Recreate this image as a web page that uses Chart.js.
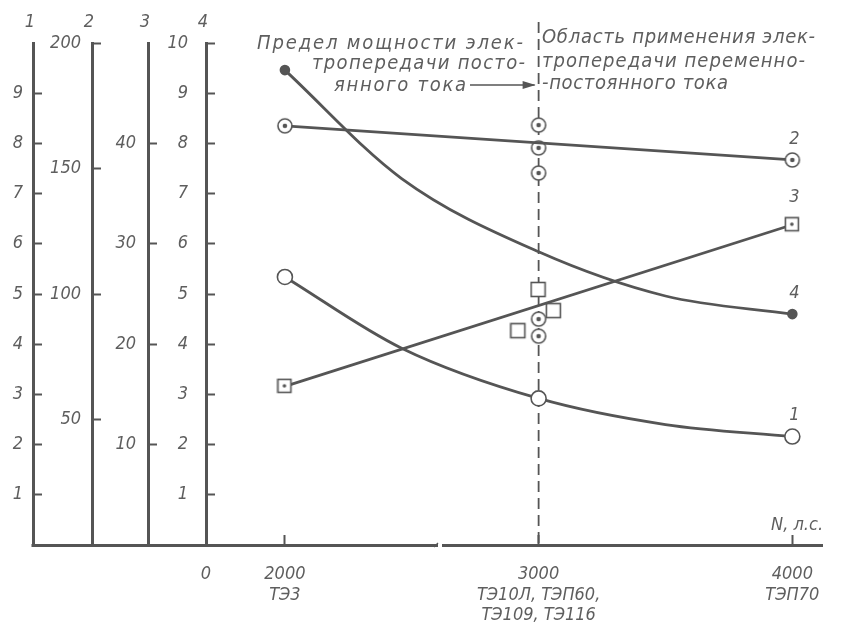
<!DOCTYPE html>
<html><head><meta charset="utf-8">
<script src="https://cdn.jsdelivr.net/npm/chart.js@4"></script>
<style>html,body{margin:0;padding:0;background:#fff}#wrap{width:849px;height:625px}</style>
</head><body><div id="wrap"><canvas id="c" width="849" height="625"></canvas></div>
<script>
// ---- data ----
const powerHP = [2000, 3000, 4000];
const xTickValues = [1689, 2000, 3000, 4000];
const xTickLabels = [['0'], ['2000', 'ТЭ3'], ['3000', 'ТЭ10Л, ТЭП60,', 'ТЭ109, ТЭ116'], ['4000', 'ТЭП70']];

const y1Ticks = [1, 2, 3, 4, 5, 6, 7, 8, 9];
const y2Ticks = [50, 100, 150, 200];
const y3Ticks = [10, 20, 30, 40];
const y4Ticks = [1, 2, 3, 4, 5, 6, 7, 8, 9, 10];

// curve 1 (axis 1)
const curve1X = [2000, 2460, 3000, 3500, 4000];
const curve1Y = [5.34, 3.92, 2.92, 2.4, 2.16];
// curve 2 (axis 2)
const curve2X = [2000, 4000];
const curve2Y = [167, 153.4];
// curve 3 (axis 3)
const curve3X = [2000, 4000];
const curve3Y = [15.8, 31.9];
// curve 4 (axis 4)
const curve4X = [2000, 2460, 3000, 3500, 4000];
const curve4Y = [9.46, 7.3, 5.84, 4.96, 4.6];
// individual locomotive points at 3000 h.p.
const pts2X = [3000, 3000, 3000];
const pts2Y = [167.3, 158.2, 148.2];
const pts3X = [3000, 3060, 2920];
const pts3Y = [25.4, 23.3, 21.3];
const pts4X = [3000, 3000];
const pts4Y = [4.5, 4.16];

const curveNames = ['1', '2', '3', '4'];

// ---- style ----
const INK = '#555';
const TXT = '#5e5e5e';
const FONT = "'DejaVu Sans Condensed', 'Liberation Sans Narrow', 'DejaVu Sans', sans-serif";

function mk(w, h, draw) { const c = document.createElement('canvas'); c.width = w; c.height = h; draw(c.getContext('2d')); return c; }
const circleDot = mk(18, 18, g => { g.beginPath(); g.arc(9, 9, 7, 0, Math.PI * 2); g.fillStyle = '#fff'; g.fill(); g.lineWidth = 1.6; g.strokeStyle = INK; g.stroke(); g.beginPath(); g.arc(9, 9, 2.3, 0, Math.PI * 2); g.fillStyle = INK; g.fill(); });
const squareDot = mk(17, 17, g => { g.fillStyle = '#fff'; g.fillRect(1.5, 1.5, 13, 13); g.lineWidth = 1.6; g.strokeStyle = INK; g.strokeRect(1.5, 1.5, 13, 13); g.beginPath(); g.arc(8, 8, 1.8, 0, Math.PI * 2); g.fillStyle = INK; g.fill(); });
const squarePlain = mk(18, 18, g => { g.fillStyle = '#fff'; g.fillRect(1.5, 1.5, 14, 14); g.lineWidth = 1.6; g.strokeStyle = INK; g.strokeRect(1.5, 1.5, 14, 14); });

const pairs = (xs, ys) => xs.map((x, i) => ({ x, y: ys[i] }));
const tickFont = { family: FONT, size: 18, style: 'italic', lineHeight: 1.15 };

function yScale(max, ticks, width, pad, weight) {
  return {
    type: 'linear', position: 'left', min: 0, max, weight,
    afterBuildTicks: s => { s.ticks = ticks.map(v => ({ value: v })); },
    afterFit: s => { s.width = width; },
    ticks: { padding: pad, color: TXT, font: tickFont, autoSkip: false },
    grid: { display: true, drawOnChartArea: false, drawTicks: true, tickLength: -9, tickWidth: 2, tickColor: INK },
    border: { display: true, color: INK, width: 3 }
  };
}

function spaced(ctx, text, x, y, width, align) {
  ctx.letterSpacing = '0px';
  const w0 = ctx.measureText(text).width;
  const n = [...text].length;
  const ls = n > 1 ? (width - w0) / (n - 1) : 0;
  ctx.letterSpacing = ls + 'px';
  ctx.textAlign = 'left';
  const x0 = align === 'right' ? x - width : align === 'center' ? x - width / 2 : x;
  ctx.fillText(text, x0, y);
  ctx.letterSpacing = '0px';
}

const decor = {
  id: 'decor',
  beforeDatasetsDraw(chart) {
    const { ctx, chartArea: a, scales: { x } } = chart;
    const px = x.getPixelForValue(3000);
    ctx.save();
    ctx.strokeStyle = INK; ctx.lineWidth = 1.8; ctx.setLineDash([11, 6]);
    ctx.beginPath(); ctx.moveTo(px, 22); ctx.lineTo(px, a.bottom); ctx.stroke();
    ctx.restore();
  },
  afterDraw(chart) {
    const { ctx, chartArea: a, scales } = chart;
    const x = scales.x;
    ctx.save();
    // bottom line under the left axes
    ctx.strokeStyle = INK; ctx.lineWidth = 3;
    ctx.beginPath(); ctx.moveTo(scales.y1.right - 1.5, a.bottom + 0.5); ctx.lineTo(a.left, a.bottom + 0.5); ctx.stroke();
    // break in the x axis
    ctx.fillStyle = '#fff'; ctx.fillRect(438, a.bottom - 3, 4, 8);
    ctx.strokeStyle = INK; ctx.lineWidth = 1.2;
    ctx.beginPath(); ctx.moveTo(434, a.bottom + 2); ctx.lineTo(438, a.bottom - 2); ctx.stroke();
    // axis numbers
    ctx.fillStyle = TXT; ctx.font = "italic 18px " + FONT; ctx.textAlign = 'center'; ctx.textBaseline = 'middle';
    ['y1', 'y2', 'y3', 'y4'].forEach((id, i) => { ctx.fillText(curveNames[i], scales[id].right - 3, 22); });
    // curve labels
    [0, 1, 2, 3].forEach(i => {
      const el = chart.getDatasetMeta(i).data.at(-1);
      ctx.fillText(curveNames[i], el.x + 2, el.y - (i === 2 ? 27 : 21));
    });
    // N, л.с.
    ctx.textAlign = 'right';
    ctx.fillText('N, л.с.', x.right + 1, a.bottom - 20);
    // annotations
    ctx.font = "italic 20px " + FONT;
    ctx.textBaseline = 'alphabetic';
    spaced(ctx, 'Предел мощности элек-', 523, 49, 266, 'right');
    spaced(ctx, 'тропередачи посто-', 525, 69, 213, 'right');
    spaced(ctx, 'янного тока', 334, 91, 132, 'left');
    spaced(ctx, 'Область применения элек-', 542, 43, 273, 'left');
    spaced(ctx, 'тропередачи переменно-', 542, 67, 263, 'left');
    spaced(ctx, '-постоянного тока', 542, 89, 186, 'left');
    // arrow
    const ax = x.getPixelForValue(3000);
    ctx.strokeStyle = INK; ctx.lineWidth = 1.5;
    ctx.beginPath(); ctx.moveTo(470, 85); ctx.lineTo(ax - 4, 85); ctx.stroke();
    ctx.fillStyle = INK;
    ctx.beginPath(); ctx.moveTo(ax - 3, 85); ctx.lineTo(ax - 16, 81); ctx.lineTo(ax - 16, 89); ctx.closePath(); ctx.fill();
    ctx.restore();
  }
};

const lineBase = { borderColor: INK, borderWidth: 2.8, fill: false, pointBorderColor: INK, pointBackgroundColor: '#fff', pointBorderWidth: 1.6 };

new Chart(document.getElementById('c'), {
  type: 'line',
  data: {
    datasets: [
      Object.assign({}, lineBase, { label: '1', yAxisID: 'y1', data: pairs(curve1X, curve1Y), cubicInterpolationMode: 'monotone', pointStyle: 'circle', pointRadius: c => powerHP.includes(curve1X[c.dataIndex]) ? 7.5 : 0 }),
      Object.assign({}, lineBase, { label: '2', yAxisID: 'y2', data: pairs(curve2X, curve2Y), pointStyle: circleDot, pointRadius: 8 }),
      Object.assign({}, lineBase, { label: '3', yAxisID: 'y3', data: pairs(curve3X, curve3Y), pointStyle: squareDot, pointRadius: 8 }),
      Object.assign({}, lineBase, { label: '4', yAxisID: 'y4', data: pairs(curve4X, curve4Y), cubicInterpolationMode: 'monotone', pointStyle: 'circle', pointBackgroundColor: INK, pointRadius: c => (c.dataIndex === 0 || c.dataIndex === curve4X.length - 1) ? 4.5 : 0 }),
      { label: 'p2', yAxisID: 'y2', data: pairs(pts2X, pts2Y), showLine: false, pointStyle: circleDot, pointRadius: 8 },
      { label: 'p3', yAxisID: 'y3', data: pairs(pts3X, pts3Y), showLine: false, pointStyle: squarePlain, pointRadius: 8 },
      { label: 'p4', yAxisID: 'y4', data: pairs(pts4X, pts4Y), showLine: false, pointStyle: circleDot, pointRadius: 8 }
    ]
  },
  options: {
    responsive: false, animation: false,
    layout: { padding: { top: 43, left: 0, right: 14, bottom: 0 } },
    plugins: { legend: { display: false }, tooltip: { enabled: false } },
    scales: {
      x: {
        type: 'linear', position: 'bottom', min: 1689, max: 4117,
        afterBuildTicks: s => { s.ticks = xTickValues.map(v => ({ value: v })); },
        afterFit: s => { s.height = 80; },
        ticks: { autoSkip: false, maxRotation: 0, minRotation: 0, padding: 29, color: TXT, font: tickFont,
          callback: v => { const i = xTickValues.indexOf(v); return i >= 0 ? xTickLabels[i] : ''; } },
        grid: { display: true, drawOnChartArea: false, drawTicks: true, tickLength: -10, tickWidth: 2, tickColor: INK },
        border: { display: true, color: INK, width: 3 }
      },
      y1: yScale(10, y1Ticks, 33, 19, 4),
      y2: yScale(200, y2Ticks, 59, 20, 3),
      y3: yScale(50, y3Ticks, 56, 21, 2),
      y4: yScale(10, y4Ticks, 58, 27, 1)
    }
  },
  plugins: [decor]
});
</script>
</body></html>
